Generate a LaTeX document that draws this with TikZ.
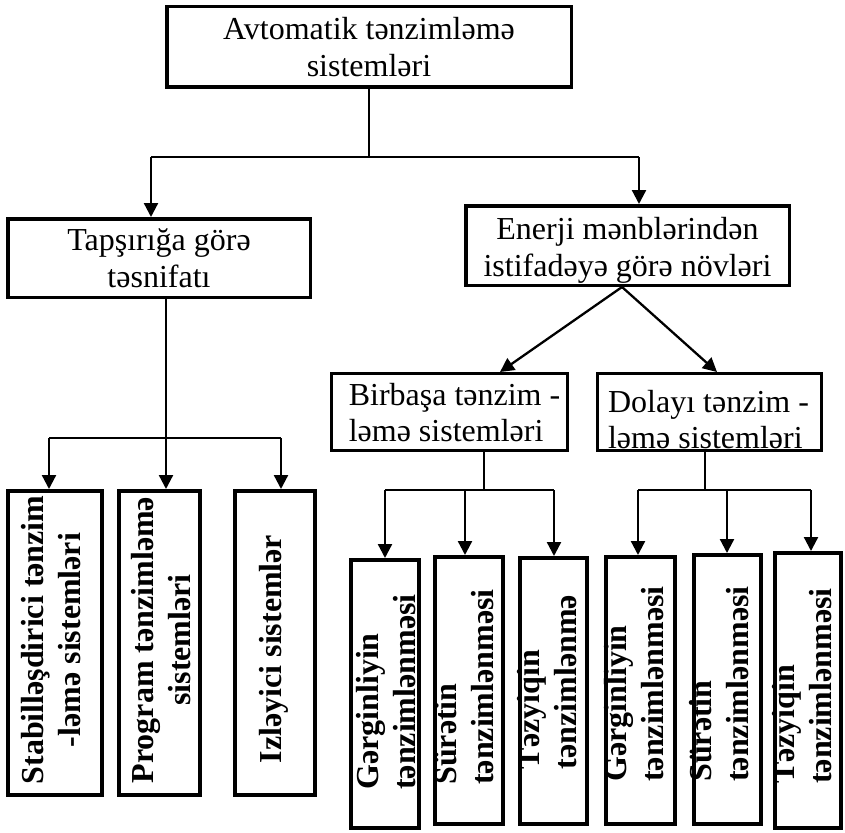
\documentclass[tikz,border=0pt]{standalone}
\usepackage{fontspec}
\setmainfont{Liberation Serif}
\usetikzlibrary{arrows.meta}
\begin{document}
\begin{tikzpicture}[x=1pt,y=-1pt,
  box/.style={draw, line width=3.5pt, inner sep=0pt,
    font=\fontsize{32}{37}\selectfont},
  midbox/.style={draw, line width=3pt, inner sep=0pt},
  boxtext/.style={inner sep=0pt, font=\fontsize{32}{36}\selectfont},
  tallbox/.style={draw, line width=4pt, inner sep=0pt},
  vtxt/.style={font=\fontsize{32}{37}\bfseries\selectfont, rotate=90, inner sep=0pt},
  feed/.style={line width=1.5pt},
  arr/.style={line width=2.3pt, -{Triangle[length=14pt,width=14pt]}},
]
\useasboundingbox (0,0) rectangle (845,832);

% upper levels
\node[box, align=center, minimum width=404.5pt, minimum height=80.5pt] (A) at (369,47)
  {Avtomatik tənzimləmə\\sistemləri};
\node[box, align=center, minimum width=302.5pt, minimum height=78.5pt] (B) at (159,258)
  {Tapşırığa görə\\təsnifatı};
\node[box, minimum width=323.5pt, minimum height=79.5pt] (C) at (627.5,245.5) {};
\node[boxtext, align=center, font=\fontsize{32}{37}\selectfont] (Ct) at ([yshift=-5pt]C.center)
  {Enerji mənblərindən\\istifadəyə görə növləri};
\node[midbox, minimum width=236pt, minimum height=77pt] (D) at (449.5,412) {};
\node[boxtext, align=left] (Dt) at ([xshift=5pt, yshift=-1pt]D.center)
  {Birbaşa tənzim -\\ləmə sistemləri};
\node[midbox, minimum width=224pt, minimum height=77pt] (E) at (709.5,412) {};
\node[boxtext, align=left] (Et) at ([xshift=-1pt, yshift=-8pt]E.center)
  {Dolayı tənzim -\\ləmə sistemləri};

% tall boxes, left group
\node[tallbox, minimum width=94pt, minimum height=304pt] (l1) at (55,643) {};
\node[tallbox, minimum width=81pt, minimum height=304pt] (l2) at (159.5,643) {};
\node[tallbox, minimum width=80pt, minimum height=304pt] (l3) at (275,643) {};

% tall boxes, right groups
\node[tallbox, minimum width=68pt, minimum height=268pt] (r1) at (385,694) {};
\node[tallbox, minimum width=68pt, minimum height=267pt] (r2) at (469,690.5) {};
\node[tallbox, minimum width=67pt, minimum height=266pt] (r3) at (553.5,691) {};
\node[tallbox, minimum width=69pt, minimum height=267pt] (r4) at (640.5,690.5) {};
\node[tallbox, minimum width=67pt, minimum height=269pt] (r5) at (727.5,689.5) {};
\node[tallbox, minimum width=66pt, minimum height=275pt] (r6) at (808,690.5) {};

% vertical captions
\node[vtxt, align=center] (l1t) at (51,640) {Stabilləşdirici tənzim\\-ləmə sistemləri};
\node[vtxt, align=center] (l2t) at (161,640) {Program tənzimləmə\\sistemləri};
\node[vtxt, align=center] (l3t) at (274,649) {Izləyici sistemlər};

\node[vtxt, align=left] (r1t) at (386,692) {Gərginliyin\\tənzimlənməsi};
\node[vtxt, align=left] (r2t) at (464,687) {Sürətin\\tənzimlənməsi};
\node[vtxt, align=left] (r3t) at (547,682) {Təzyiqin\\tənzimlənmə};
\node[vtxt, align=left] (r4t) at (634,684) {Gərginliyin\\tənzimlənməsi};
\node[vtxt, align=left] (r5t) at (719,684) {Sürətin\\tənzimlənməsi};
\node[vtxt, align=left] (r6t) at (802,686) {Təzyiqin\\tənzimlənməsi};

% junction points
\coordinate (jA) at (369,157);
\coordinate (jAl) at (151,157);
\coordinate (jAr) at (639,157);
\coordinate (jB) at (166,438);
\coordinate (jBl) at (49,438);
\coordinate (jBr) at (281,438);
\coordinate (cS) at (622,287);
\coordinate (xD) at (500,0);
\coordinate (xE) at (717,0);
\coordinate (jD) at (484,490);
\coordinate (jDl) at (385,490);
\coordinate (jDm) at (465,490);
\coordinate (jDr) at (554,490);
\coordinate (jE) at (705,490);
\coordinate (jEl) at (638,490);
\coordinate (jEm) at (727,490);
\coordinate (jEr) at (811,490);

% top level split
\draw[feed] (A.south) -- (jA);
\draw[feed] (jAl) -- (jAr);
\draw[arr] (jAl) -- (jAl |- B.north);
\draw[arr] (jAr) -- (jAr |- C.north);

% task-based classification
\draw[arr] (B.south -| jB) -- (jB |- l2.north);
\draw[feed] (jBl) -- (jBr);
\draw[arr] (jBl) -- (jBl |- l1.north);
\draw[arr] (jBr) -- (jBr |- l3.north);

% energy-source split
\draw[arr] (C.south -| cS) -- (xD |- D.north);
\draw[arr] (C.south -| cS) -- (xE |- E.north);

% direct regulation
\draw[feed] (D.south -| jD) -- (jD);
\draw[feed] (jDl) -- (jDr);
\draw[arr] (jDl) -- (jDl |- r1.north);
\draw[arr] (jDm) -- (jDm |- r2.north);
\draw[arr] (jDr) -- (jDr |- r3.north);

% indirect regulation
\draw[feed] (E.south -| jE) -- (jE);
\draw[feed] (jEl) -- (jEr);
\draw[arr] (jEl) -- (jEl |- r4.north);
\draw[arr] (jEm) -- (jEm |- r5.north);
\draw[arr] (jEr) -- (jEr |- r6.north);
\end{tikzpicture}
\end{document}
